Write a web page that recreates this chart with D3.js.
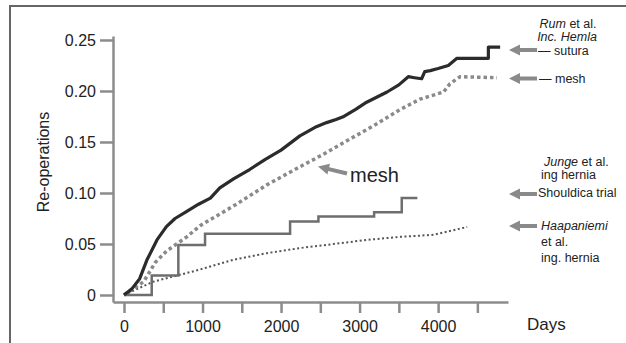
<!DOCTYPE html>
<html>
<head>
<meta charset="utf-8">
<script src="https://cdn.jsdelivr.net/npm/d3@7"></script>
<style>
  body { margin: 0; background: #fff; }
  svg { display: block; font-family: "Liberation Sans", Arial, sans-serif; }
</style>
</head>
<body>
<div id="chart"></div>
<script>
  var width = 626, height = 343;

  // re-operation curves (days, cumulative rate)
  var rumSuturaDays = [0, 100, 200, 290, 420, 540, 650, 800, 950, 1100, 1220, 1400, 1600, 1800, 2000, 2240, 2450, 2580, 2700, 2800, 2950, 3090, 3350, 3500, 3620, 3700, 3790, 3830, 3900, 4000, 4130, 4240, 4640, 4640, 4790];
  var rumSuturaVals = [0, 0.006, 0.016, 0.034, 0.054, 0.067, 0.075, 0.082, 0.089, 0.095, 0.105, 0.114, 0.123, 0.133, 0.142, 0.156, 0.165, 0.169, 0.172, 0.175, 0.182, 0.189, 0.199, 0.206, 0.214, 0.213, 0.212, 0.219, 0.220, 0.222, 0.225, 0.232, 0.232, 0.243, 0.243];

  var rumMeshDays = [0, 250, 400, 540, 800, 970, 1100, 1390, 1820, 2200, 2540, 2880, 3180, 3520, 3770, 4070, 4150, 4280, 4750];
  var rumMeshVals = [0, 0.013, 0.032, 0.043, 0.057, 0.068, 0.074, 0.087, 0.108, 0.124, 0.138, 0.153, 0.166, 0.182, 0.192, 0.199, 0.207, 0.214, 0.213];

  var jungeDays = [0, 353, 692, 1032, 2115, 2476, 3185, 3537, 3736];
  var jungeVals = [0, 0.019, 0.049, 0.060, 0.072, 0.077, 0.081, 0.095, 0.095];

  var haapDays = [0, 370, 970, 1100, 1390, 1820, 2240, 2670, 3090, 3520, 3940, 4370];
  var haapVals = [0, 0.013, 0.025, 0.028, 0.0345, 0.041, 0.046, 0.050, 0.054, 0.057, 0.059, 0.0667];

  var xTicks = [0, 500, 1000, 1500, 2000, 2500, 3000, 3500, 4000, 4500];
  var yTicks = [0, 0.05, 0.10, 0.15, 0.20, 0.25];

  function zip(xs, ys) { return xs.map(function(d, i) { return [d, ys[i]]; }); }

  var svg = d3.select("#chart").append("svg")
      .attr("width", width).attr("height", height);

  // outer frame (top and left edges only show)
  svg.append("path")
      .attr("d", "M10,343V6H626")
      .attr("fill", "none").attr("stroke", "#666").attr("stroke-width", 2);

  var x = d3.scaleLinear().domain([-140, 4890]).range([113, 508]);
  var y = d3.scaleLinear().domain([-0.00686, 0.2539]).range([302, 36]);

  var axisColor = "#8c8c8c";

  var gx = svg.append("g").attr("transform", "translate(0,302)")
      .call(d3.axisBottom(x).tickValues(xTicks).tickSize(11).tickSizeOuter(0).tickPadding(8)
        .tickFormat(function(d) { return d % 1000 === 0 ? d : ""; }));
  var gy = svg.append("g").attr("transform", "translate(113,0)")
      .call(d3.axisLeft(y).tickValues(yTicks).tickSize(13).tickSizeOuter(0).tickPadding(4)
        .tickFormat(function(d) { return d === 0 ? "0" : d3.format(".2f")(d); }));

  [gx, gy].forEach(function(g) {
    g.select(".domain").attr("stroke", axisColor).attr("stroke-width", 2.5);
    g.selectAll(".tick line").attr("stroke", axisColor).attr("stroke-width", 2.5);
    g.selectAll(".tick text").attr("fill", "#222").style("font-size", "16px");
  });
  gy.selectAll(".tick text").attr("dy", "0.36em");

  var line = d3.line().x(function(d) { return x(d[0]); }).y(function(d) { return y(d[1]); });

  svg.append("path").datum(zip(haapDays, haapVals))
      .attr("d", line).attr("fill", "none")
      .attr("stroke", "#555").attr("stroke-width", 2).attr("stroke-dasharray", "2,2.5");

  svg.append("path").datum(zip(jungeDays, jungeVals))
      .attr("d", line.curve(d3.curveStepAfter)).attr("fill", "none")
      .attr("stroke", "#6e6e6e").attr("stroke-width", 2.5);
  line.curve(d3.curveLinear);

  svg.append("path").datum(zip(rumMeshDays, rumMeshVals))
      .attr("d", line).attr("fill", "none")
      .attr("stroke", "#8a8a8a").attr("stroke-width", 3.5).attr("stroke-dasharray", "3.5,3");

  svg.append("path").datum(zip(rumSuturaDays, rumSuturaVals))
      .attr("d", line).attr("fill", "none")
      .attr("stroke", "#2b2b2b").attr("stroke-width", 3.2).attr("stroke-linejoin", "round");

  // axis titles
  svg.append("text")
      .attr("transform", "translate(49,162) rotate(-90)")
      .attr("text-anchor", "middle").attr("fill", "#222").style("font-size", "16px")
      .text("Re-operations");
  svg.append("text").attr("x", 527).attr("y", 330)
      .attr("fill", "#222").style("font-size", "17px").text("Days");

  // arrows
  function arrow(x1, y1, x2, y2) {
    var a = Math.atan2(y2 - y1, x2 - x1) * 180 / Math.PI;
    var len = Math.hypot(x2 - x1, y2 - y1);
    var g = svg.append("g").attr("transform", "translate(" + x1 + "," + y1 + ") rotate(" + a + ")");
    g.append("line").attr("x1", 0).attr("y1", 0).attr("x2", len - 9).attr("y2", 0)
      .attr("stroke", "#8a8a8a").attr("stroke-width", 4);
    g.append("path").attr("d", "M" + len + ",0L" + (len - 11) + ",-5.5L" + (len - 11) + ",5.5Z")
      .attr("fill", "#8a8a8a");
  }
  arrow(537, 50, 509, 50);
  arrow(537, 78.5, 509, 78.5);
  arrow(537, 194, 509, 194);
  arrow(537, 226, 509, 226);
  arrow(347, 173.5, 318, 166.5);

  // labels: an italic author name followed by plain text, laid out side by side
  function label(xp, yp, parts, center) {
    var g = svg.append("g");
    var cx = 0;
    parts.forEach(function(p) {
      var t = g.append("text").attr("x", cx).attr("y", 0)
          .attr("fill", "#222").style("font-size", "12.5px")
          .style("font-style", p[1] ? "italic" : "normal")
          .attr("xml:space", "preserve").style("white-space", "pre")
          .text(p[0]);
      cx += t.node().getComputedTextLength();
    });
    var x0 = center ? xp - cx / 2 : xp;
    g.attr("transform", "translate(" + x0 + "," + yp + ")");
  }
  label(568, 27.5, [["Rum", 1], [" et al.", 0]], true);
  label(567, 41, [["Inc. Hemla", 1]], true);
  label(538, 55, [["\u2014 sutura", 0]]);
  label(539, 83, [["\u2014 mesh", 0]]);
  label(544, 166, [["Junge", 1], [" et al.", 0]]);
  label(541, 179, [["ing hernia", 0]]);
  label(538, 197, [["Shouldica trial", 0]]);
  label(541, 230, [["Haapaniemi", 1]]);
  label(541, 246, [["et al.", 0]]);
  label(541, 261.5, [["ing. hernia", 0]]);

  svg.append("text").attr("x", 350).attr("y", 182)
      .attr("fill", "#222").style("font-size", "20px").text("mesh");
</script>
</body>
</html>
